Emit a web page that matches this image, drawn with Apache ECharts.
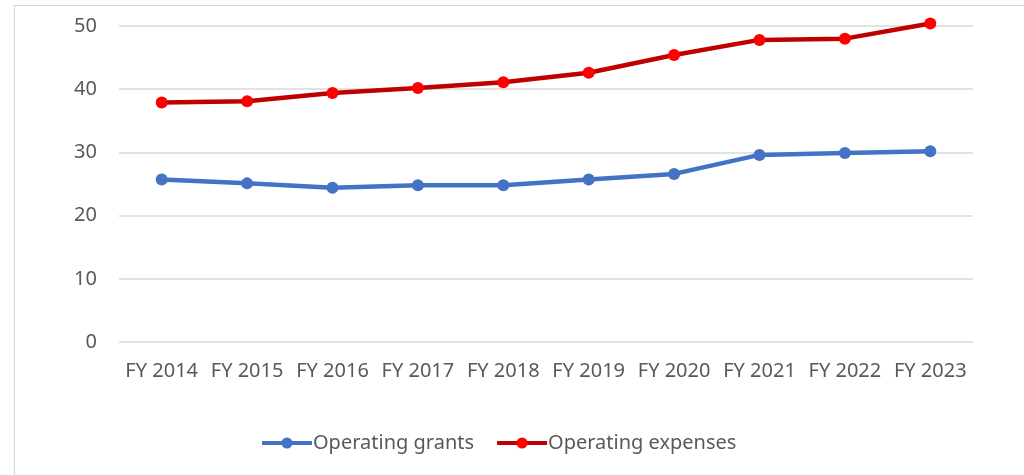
<!DOCTYPE html>
<html>
<head>
<meta charset="utf-8">
<title>Operating grants and expenses, FY 2014–FY 2023</title>
<script src="https://cdn.jsdelivr.net/npm/echarts@6/dist/echarts.min.js"></script>
<style>
  html, body { margin: 0; padding: 0; background: #ffffff; overflow: hidden; }
  #frame {
    position: absolute; left: 14px; top: 5px; width: 1100px; height: 600px;
    border: 1px solid #d6d6d6; box-sizing: border-box;
  }
  #chart { position: absolute; left: 0; top: 0; width: 1024px; height: 475px; }
</style>
</head>
<body>
<div id="frame"></div>
<div id="chart"></div>
<script>
// Fiscal years on the category axis
const fiscalYears = ['FY 2014', 'FY 2015', 'FY 2016', 'FY 2017', 'FY 2018',
                     'FY 2019', 'FY 2020', 'FY 2021', 'FY 2022', 'FY 2023'];

// Series values
const operatingGrants   = [25.7, 25.1, 24.4, 24.8, 24.8, 25.7, 26.6, 29.6, 29.9, 30.2];
const operatingExpenses = [37.9, 38.1, 39.4, 40.2, 41.1, 42.6, 45.4, 47.8, 48.0, 50.4];

// Value axis ticks
const yTicks = [0, 10, 20, 30, 40, 50];

const textGrey = '#595959';
const gridGrey = '#d9d9d9';
const font = 'Noto Sans';

const chart = echarts.init(document.getElementById('chart'), null, { renderer: 'canvas' });

chart.setOption({
  backgroundColor: 'transparent',
  animation: false,
  grid: { left: 119, right: 51, top: 26, bottom: 133, containLabel: false },
  legend: {
    left: 255,
    top: 428,
    itemWidth: 50,
    itemHeight: 14,
    itemGap: 21,
    lineStyle: { width: 4 },
    textStyle: { color: textGrey, fontFamily: font, fontSize: 20, padding: [0, 0, 0, -4] },
    data: ['Operating grants', 'Operating expenses']
  },
  xAxis: {
    type: 'category',
    data: fiscalYears,
    boundaryGap: true,
    axisLine: { show: false },
    axisTick: { show: false },
    axisLabel: { color: textGrey, fontFamily: font, fontSize: 20, margin: 19, interval: 0 }
  },
  yAxis: {
    type: 'value',
    min: yTicks[0],
    max: yTicks[yTicks.length - 1],
    interval: yTicks[1] - yTicks[0],
    axisLine: { show: false },
    axisTick: { show: false },
    axisLabel: { color: textGrey, fontFamily: font, fontSize: 20, margin: 22 },
    splitLine: { lineStyle: { color: gridGrey, width: 1.5 } }
  },
  series: [
    {
      name: 'Operating grants',
      type: 'line',
      data: operatingGrants,
      clip: false,
      symbol: 'circle',
      symbolSize: 12,
      lineStyle: { color: '#4472c4', width: 4.5 },
      itemStyle: { color: '#4472c4' }
    },
    {
      name: 'Operating expenses',
      type: 'line',
      data: operatingExpenses,
      clip: false,
      symbol: 'circle',
      symbolSize: 12,
      lineStyle: { color: '#c00000', width: 4.5 },
      itemStyle: { color: '#ff0000' }
    }
  ]
});
</script>
</body>
</html>
